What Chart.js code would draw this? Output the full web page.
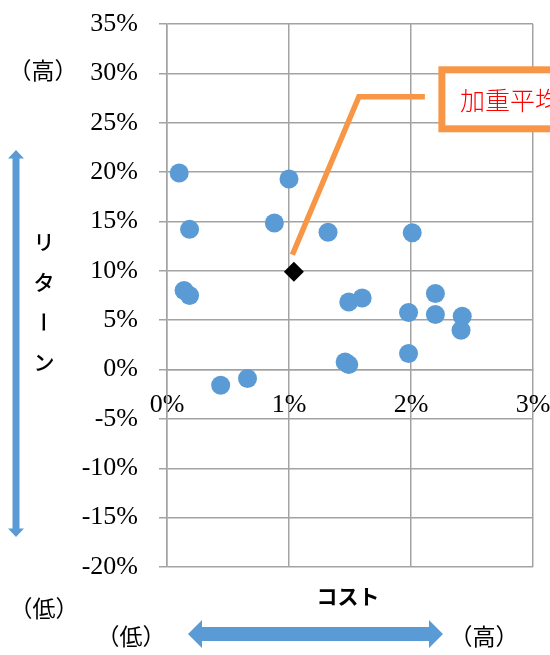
<!DOCTYPE html>
<html lang="ja">
<head>
<meta charset="utf-8">
<script src="https://cdn.jsdelivr.net/npm/chart.js@4.4.1/dist/chart.umd.min.js"></script>
<style>
  html, body { margin: 0; padding: 0; background: #fff; }
  #wrap { width: 550px; height: 655px; }
</style>
</head>
<body>
<div id="wrap"><canvas id="chart" width="550" height="655"></canvas></div>
<script>
// コスト(%) とリターン(%)：各ファンド
const costValues   = [0.10, 1.00, 0.185, 0.88, 1.32, 0.14, 0.185, 0.44, 0.66, 1.46, 1.49, 1.49, 1.60, 2.01, 1.98, 2.20, 2.20, 2.42, 2.41, 1.98];
const returnValues = [19.9, 19.3, 14.2, 14.85, 13.9, 8.0, 7.5, -1.6, -0.9, 0.77, 0.5, 6.85, 7.25, 13.85, 5.77, 7.7, 5.57, 5.4, 3.98, 1.62];

// 加重平均
const avgCost   = [1.04];
const avgReturn = [9.9];
const avgLabel  = '加重平均';

const xTickLabels = ['0%', '1%', '2%', '3%'];
const yTickLabels = ['-20%', '-15%', '-10%', '-5%', '0%', '5%', '10%', '15%', '20%', '25%', '30%', '35%'];

const BLUE = '#5b9bd5';
const ORANGE = '#f79646';
const GRID = '#a3a3a3';
const JP = '"Noto Sans CJK JP", sans-serif';

function toPoints(xs, ys) {
    return xs.map((x, i) => ({ x: x, y: ys[i] }));
}

// 矢印 (塗りつぶし多角形)
function arrowV(ctx, x, yTop, yBottom, shaft, headW, headH) {
    ctx.beginPath();
    ctx.moveTo(x, yTop);
    ctx.lineTo(x + headW / 2, yTop + headH);
    ctx.lineTo(x + shaft / 2, yTop + headH);
    ctx.lineTo(x + shaft / 2, yBottom - headH);
    ctx.lineTo(x + headW / 2, yBottom - headH);
    ctx.lineTo(x, yBottom);
    ctx.lineTo(x - headW / 2, yBottom - headH);
    ctx.lineTo(x - shaft / 2, yBottom - headH);
    ctx.lineTo(x - shaft / 2, yTop + headH);
    ctx.lineTo(x - headW / 2, yTop + headH);
    ctx.closePath();
    ctx.fill();
}

function arrowH(ctx, y, xLeft, xRight, shaft, headH, headL) {
    ctx.beginPath();
    ctx.moveTo(xLeft, y);
    ctx.lineTo(xLeft + headL, y - headH / 2);
    ctx.lineTo(xLeft + headL, y - shaft / 2);
    ctx.lineTo(xRight - headL, y - shaft / 2);
    ctx.lineTo(xRight - headL, y - headH / 2);
    ctx.lineTo(xRight, y);
    ctx.lineTo(xRight - headL, y + headH / 2);
    ctx.lineTo(xRight - headL, y + shaft / 2);
    ctx.lineTo(xLeft + headL, y + shaft / 2);
    ctx.lineTo(xLeft + headL, y + headH / 2);
    ctx.closePath();
    ctx.fill();
}

// 軸の説明・矢印・吹き出し
const decorations = {
    id: 'decorations',
    afterDraw(chart) {
        const ctx = chart.ctx;
        const area = chart.chartArea;
        ctx.save();

        // 吹き出し (加重平均の点から引き出す)
        const pt = chart.getDatasetMeta(1).data[0];
        ctx.strokeStyle = ORANGE;
        ctx.lineWidth = 5.5;
        ctx.lineJoin = 'miter';
        ctx.beginPath();
        ctx.moveTo(pt.x - 1.5, pt.y - 17);
        ctx.lineTo(pt.x + 65, pt.y - 175);
        ctx.lineTo(pt.x + 131, pt.y - 175);
        ctx.stroke();

        const bx = pt.x + 148, by = pt.y - 202, bh = 59;
        ctx.fillStyle = '#fff';
        ctx.fillRect(bx, by, 200, bh);
        ctx.lineWidth = 7;
        ctx.strokeRect(bx, by, 200, bh);
        ctx.fillStyle = '#ff0000';
        ctx.font = '300 25px ' + JP;
        ctx.textAlign = 'left';
        ctx.textBaseline = 'middle';
        ctx.fillText(avgLabel, bx + 18, by + bh / 2 + 1);

        // 矢印
        ctx.fillStyle = BLUE;
        arrowV(ctx, 16, 150, 537, 7, 16, 8.5);
        arrowH(ctx, 634, 188, 443, 14, 28, 14);

        // 軸ラベル
        ctx.fillStyle = '#000';
        ctx.textAlign = 'center';
        ctx.textBaseline = 'middle';
        ctx.font = '400 23px ' + JP;
        ctx.fillText('（高）', 43, 70);
        ctx.fillText('（低）', 44, 608);
        ctx.fillText('（低）', 131, 636);
        ctx.fillText('（高）', 484, 636);

        ctx.font = 'bold 21px ' + JP;
        ctx.fillText('コスト', (area.left + area.right) / 2 - 2, 596);

        ctx.font = '500 21px ' + JP;
        const chars = ['リ', 'タ', 'ー', 'ン'];
        chars.forEach((c, i) => {
            const y = 242 + i * 40;
            if (c === 'ー') {
                ctx.save();
                ctx.translate(44, y);
                ctx.rotate(Math.PI / 2);
                ctx.fillText(c, 0, 0);
                ctx.restore();
            } else {
                ctx.fillText(c, 44, y);
            }
        });

        ctx.restore();
    }
};

const ctx = document.getElementById('chart');

new Chart(ctx, {
    type: 'scatter',
    data: {
        datasets: [
            {
                label: 'ファンド',
                data: toPoints(costValues, returnValues),
                backgroundColor: BLUE,
                borderWidth: 0,
                pointRadius: 9.5,
                pointHoverRadius: 9.5
            },
            {
                label: avgLabel,
                data: toPoints(avgCost, avgReturn),
                backgroundColor: '#000',
                borderWidth: 0,
                pointStyle: 'rectRot',
                pointRadius: 10,
                pointHoverRadius: 10
            }
        ]
    },
    options: {
        responsive: false,
        animation: false,
        devicePixelRatio: 1,
        layout: {
            padding: { left: 0, right: 17, top: 24, bottom: 88 }
        },
        plugins: {
            legend: { display: false },
            tooltip: { enabled: false }
        },
        scales: {
            x: {
                type: 'linear',
                position: { y: 0 },
                min: 0,
                max: 3,
                ticks: {
                    stepSize: 1,
                    maxRotation: 0,
                    padding: 20,
                    color: '#000',
                    font: { family: '"Liberation Serif", serif', size: 26 },
                    callback: (v, i) => xTickLabels[i]
                },
                grid: { color: GRID, lineWidth: 1.5, drawTicks: false },
                border: { color: GRID, width: 1.5 },
                afterFit(scale) {
                    scale.paddingLeft = 0;
                    scale.paddingRight = 0;
                }
            },
            y: {
                type: 'linear',
                min: -20,
                max: 35,
                ticks: {
                    stepSize: 5,
                    padding: 21,
                    color: '#000',
                    font: { family: '"Liberation Serif", serif', size: 26 },
                    callback: (v, i) => yTickLabels[i]
                },
                grid: { color: GRID, lineWidth: 1.5, tickLength: 8 },
                border: { color: GRID, width: 1.5 },
                afterFit(scale) {
                    scale.width = 167;
                    scale.paddingTop = 0;
                    scale.paddingBottom = 0;
                }
            }
        }
    },
    plugins: [decorations]
});
</script>
</body>
</html>
